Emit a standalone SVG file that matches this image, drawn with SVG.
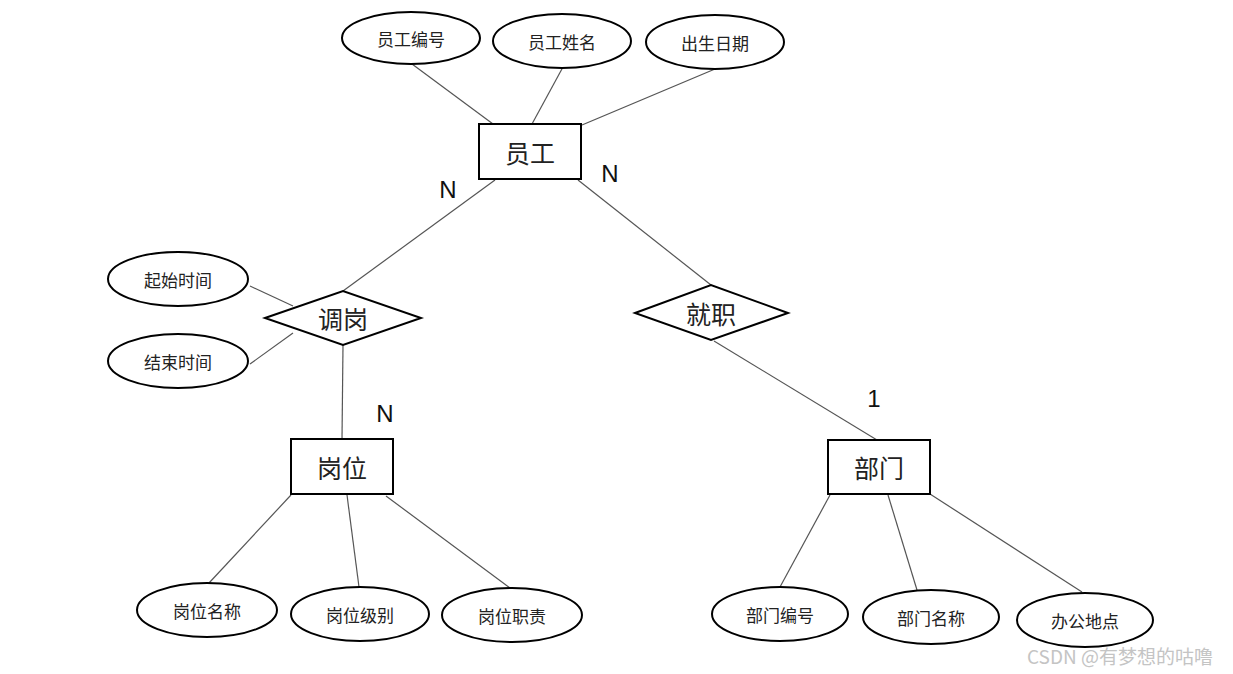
<svg xmlns="http://www.w3.org/2000/svg" width="1233" height="674" viewBox="0 0 1233 674">
<style>
.attr{fill:#fff;stroke:#000;stroke-width:2}
.ent{fill:#fff;stroke:#000;stroke-width:2}
.rel{fill:#fff;stroke:#000;stroke-width:2}
.conn line{stroke:#555;stroke-width:1.2}
text{font-family:"Noto Sans CJK SC","Noto Sans",sans-serif;fill:#222;text-anchor:middle;dominant-baseline:central}
.ta{font-size:17px}
.te{font-size:25px}
.tc{font-family:"Liberation Sans","Noto Sans",sans-serif;font-size:24px;fill:#111}
.wm{font-size:19px;fill:#c4c4c4;text-anchor:start}
</style>
<rect width="1233" height="674" fill="#fff"/>
<g id="connectors" class="conn">
<line x1="412" y1="64" x2="493" y2="124"/>
<line x1="563" y1="67" x2="532" y2="124"/>
<line x1="715" y1="69" x2="582" y2="125"/>
<line x1="495" y1="180" x2="343" y2="291"/>
<line x1="578" y1="180" x2="711" y2="285"/>
<line x1="250" y1="286" x2="293" y2="306"/>
<line x1="250" y1="364" x2="293" y2="333"/>
<line x1="343" y1="345" x2="342" y2="439"/>
<line x1="714" y1="341" x2="877" y2="440"/>
<line x1="291" y1="495" x2="209" y2="583"/>
<line x1="347" y1="495" x2="359" y2="587"/>
<line x1="386" y1="496" x2="510" y2="588"/>
<line x1="830" y1="495" x2="780" y2="587"/>
<line x1="888" y1="495" x2="917" y2="590"/>
<line x1="930" y1="494" x2="1082" y2="592"/>
</g>
<g id="card">
<text class="tc" x="448" y="189">N</text>
<text class="tc" x="610" y="173">N</text>
<text class="tc" x="385" y="413">N</text>
<text class="tc" x="874" y="398">1</text>
</g>
<g id="a-empno"><ellipse class="attr" cx="411" cy="38" rx="69" ry="26"/><text class="ta" x="411" y="38">员工编号</text></g>
<g id="a-empname"><ellipse class="attr" cx="562" cy="41" rx="69" ry="27"/><text class="ta" x="562" y="41">员工姓名</text></g>
<g id="a-birth"><ellipse class="attr" cx="715" cy="42" rx="69" ry="27"/><text class="ta" x="715" y="42">出生日期</text></g>
<g id="e-emp"><rect class="ent" x="479" y="124" width="102" height="55"/><text class="te" x="530" y="152">员工</text></g>
<g id="r-transfer"><polygon class="rel" points="265,318 343,291 421,318 343,345"/><text class="te" x="343" y="318">调岗</text></g>
<g id="a-start"><ellipse class="attr" cx="178" cy="279" rx="70" ry="27"/><text class="ta" x="178" y="279">起始时间</text></g>
<g id="a-end"><ellipse class="attr" cx="178" cy="361" rx="70" ry="27"/><text class="ta" x="178" y="361">结束时间</text></g>
<g id="r-job"><polygon class="rel" points="635,313 711,285 788,313 711,340"/><text class="te" x="711" y="313">就职</text></g>
<g id="e-post"><rect class="ent" x="291" y="439" width="102" height="55"/><text class="te" x="342" y="467">岗位</text></g>
<g id="e-dept"><rect class="ent" x="828" y="440" width="102" height="54"/><text class="te" x="879" y="467">部门</text></g>
<g id="a-postname"><ellipse class="attr" cx="207" cy="610" rx="70" ry="27"/><text class="ta" x="207" y="610">岗位名称</text></g>
<g id="a-postlevel"><ellipse class="attr" cx="360" cy="614" rx="69" ry="27"/><text class="ta" x="360" y="614">岗位级别</text></g>
<g id="a-postduty"><ellipse class="attr" cx="512" cy="615" rx="70" ry="27"/><text class="ta" x="512" y="615">岗位职责</text></g>
<g id="a-deptno"><ellipse class="attr" cx="780" cy="614" rx="68" ry="27"/><text class="ta" x="780" y="614">部门编号</text></g>
<g id="a-deptname"><ellipse class="attr" cx="931" cy="617" rx="68" ry="27"/><text class="ta" x="931" y="617">部门名称</text></g>
<g id="a-office"><ellipse class="attr" cx="1085" cy="620" rx="68" ry="27"/><text class="ta" x="1085" y="620">办公地点</text></g>
<text class="wm" x="1027" y="655">CSDN @有梦想的咕噜</text>
</svg>
